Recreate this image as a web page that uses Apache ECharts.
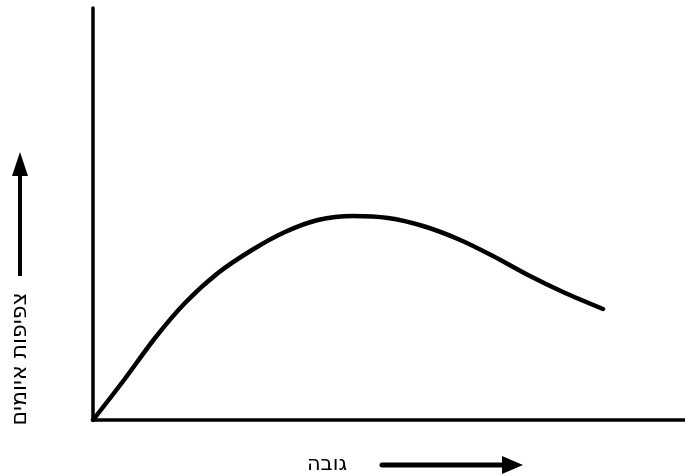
<!DOCTYPE html>
<html>
<head>
<meta charset="utf-8">
<script src="https://cdn.jsdelivr.net/npm/echarts@6/dist/echarts.min.js"></script>
<style>html,body{margin:0;padding:0;background:#fff}#c{width:685px;height:476px}</style>
</head>
<body>
<div id="c"></div>
<script>
// Values (arbitrary units: altitude vs. threat density)
const altitude = [0, 31, 62, 92, 125, 159, 192, 225, 260, 295, 330, 365, 400, 435, 470, 510];
const density  = [0, 40, 82, 117, 147, 170, 188, 200, 204, 202, 194, 181, 164, 145, 128, 111];
const xLabel = 'גובה';
const yLabel = 'צפיפות איומים';

const chart = echarts.init(document.getElementById('c'), null, {renderer: 'canvas'});
const font = '"DejaVu Sans", sans-serif';
chart.setOption({
  animation: false,
  backgroundColor: '#fff',
  grid: {left: 93, right: 0, top: 8, bottom: 56, containLabel: false},
  xAxis: {
    type: 'value', min: 0, max: 592,
    axisLine: {show: true, onZero: false, lineStyle: {color: '#000', width: 3.5}},
    axisTick: {show: false}, axisLabel: {show: false}, splitLine: {show: false}
  },
  yAxis: {
    type: 'value', min: 0, max: 412,
    axisLine: {show: true, onZero: false, lineStyle: {color: '#000', width: 3.5}},
    axisTick: {show: false}, axisLabel: {show: false}, splitLine: {show: false}
  },
  series: [{
    type: 'line',
    data: altitude.map((a, i) => [a, density[i]]),
    smooth: 0.3,
    showSymbol: false,
    lineStyle: {color: '#000', width: 4.5, cap: 'round'}
  }],
  graphic: [
    {type: 'text', x: 327, y: 465,
      style: {text: xLabel, font: '21px ' + font, fill: '#000', align: 'center', verticalAlign: 'middle'}},
    {type: 'line', shape: {x1: 382, y1: 465, x2: 505, y2: 465}, style: {stroke: '#000', lineWidth: 5, lineCap: 'round'}},
    {type: 'polygon', shape: {points: [[502, 456], [523, 465], [502, 474]]}, style: {fill: '#000'}},
    {type: 'text', x: 20, y: 359, rotation: Math.PI / 2,
      style: {text: yLabel, font: '22px ' + font, fill: '#000', align: 'center', verticalAlign: 'middle'}},
    {type: 'line', shape: {x1: 20, y1: 172, x2: 20, y2: 276}, style: {stroke: '#000', lineWidth: 4}},
    {type: 'polygon', shape: {points: [[12, 176], [20, 152], [28, 176]]}, style: {fill: '#000'}}
  ]
});
</script>
</body>
</html>
